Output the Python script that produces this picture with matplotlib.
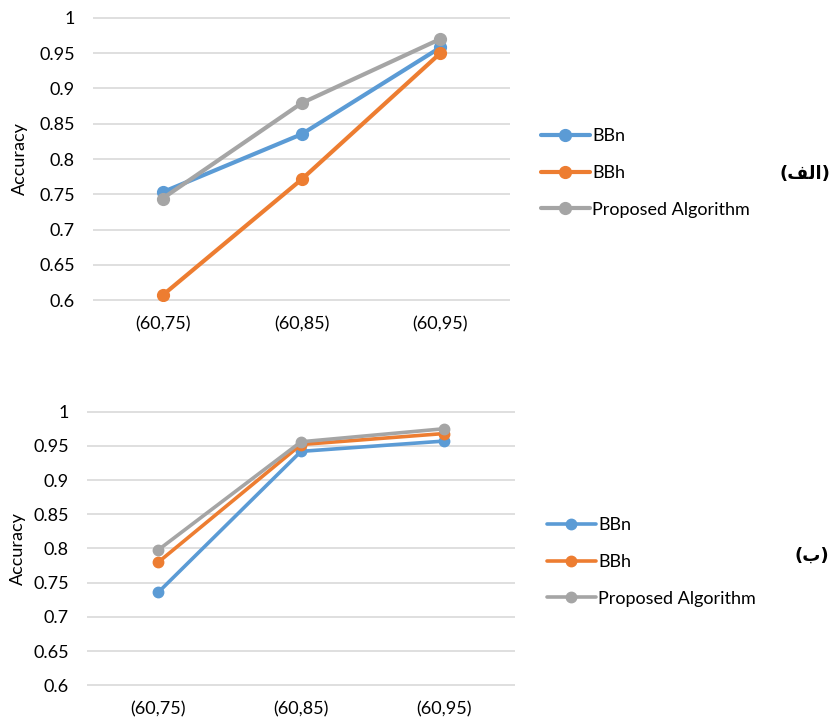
import numpy as np
import matplotlib.pyplot as plt

# categories and accuracy values
categories = ['(60,75)', '(60,85)', '(60,95)']
series_names = ['BBn', 'BBh', 'Proposed Algorithm']

top_bbn = [0.753, 0.835, 0.958]
top_bbh = [0.607, 0.771, 0.950]
top_prop = [0.744, 0.879, 0.970]

bot_bbn = [0.736, 0.942, 0.957]
bot_bbh = [0.780, 0.952, 0.968]
bot_prop = [0.798, 0.956, 0.975]

yticks = [0.6, 0.65, 0.7, 0.75, 0.8, 0.85, 0.9, 0.95, 1.0]
ytick_labels = ['0.6', '0.65', '0.7', '0.75', '0.8', '0.85', '0.9', '0.95', '1']

colors = ['#5B9BD5', '#ED7D31', '#A5A5A5']
plt.rcParams['font.family'] = ['Lato', 'DejaVu Sans']
fs = 13

fig = plt.figure(figsize=(8.35, 7.22), dpi=100)


def draw_panel(ax, data, lw, ms, leg_pos, ylab_x):
    x = np.arange(len(categories))
    for vals, name, c in zip(data, series_names, colors):
        ax.plot(x, vals, color=c, lw=lw, marker='o', ms=ms, label=name,
                solid_capstyle='round')
    ax.set_xlim(-0.5, 2.5)
    ax.set_ylim(0.599, 1.001)
    ax.set_xticks(x)
    ax.set_xticklabels(categories, fontsize=fs)
    ax.set_yticks(yticks)
    ax.set_yticklabels(ytick_labels, fontsize=fs)
    ax.tick_params(length=0, axis='y', pad=13)
    ax.tick_params(length=0, axis='x', pad=11)
    ax.grid(axis='y', color='#D9D9D9', lw=1.2)
    ax.set_axisbelow(True)
    for s in ax.spines.values():
        s.set_visible(False)
    ax.set_ylabel('Accuracy', fontsize=fs, va='center')
    ax.yaxis.set_label_coords(ylab_x, 0.5)
    ax.legend(loc='center left', bbox_to_anchor=leg_pos,
              bbox_transform=fig.transFigure, frameon=False, fontsize=fs,
              handlelength=2.7, handletextpad=0.15, labelspacing=1.15,
              borderpad=0, borderaxespad=0)


ax1 = fig.add_axes([93/835, 1 - 301/722, 417/835, 284/722])
draw_panel(ax1, [top_bbn, top_bbh, top_prop], 3.0, 8.5,
           (541/835, 1 - 173/722), -0.175)

ax2 = fig.add_axes([87/835, 1 - 686/722, 428/835, 275/722])
draw_panel(ax2, [bot_bbn, bot_bbh, bot_prop], 2.6, 7.5,
           (547/835, 1 - 562/722), -0.161)

# panel labels, Arabic letters given in visual (shaped) order
fig.text(830/835, 1 - 174/722, '(\uFED2\uFEDF\uFE8D)', ha='right', va='center',
         fontsize=13, fontweight='bold', family='DejaVu Sans')
fig.text(829/835, 1 - 556/722, '(\uFE8F)', ha='right', va='center',
         fontsize=13, fontweight='bold', family='DejaVu Sans')

fig.savefig('out.png', dpi=100)
